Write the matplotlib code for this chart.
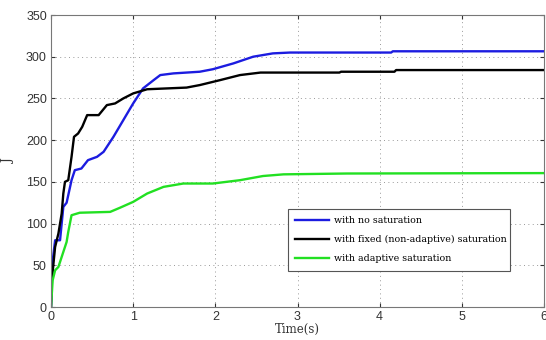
import matplotlib
matplotlib.use("Agg")
import matplotlib.pyplot as plt

# values
t_blue = [0, 0.02, 0.05, 0.11, 0.15, 0.19, 0.25, 0.29, 0.37, 0.45, 0.56, 0.64, 0.76,
          0.88, 1.0, 1.12, 1.25, 1.33, 1.49, 1.81, 1.97, 2.22, 2.46, 2.70, 2.91,
          4.14, 4.16, 6.0]
j_blue = [0, 55, 80, 80, 120, 125, 152, 164, 166, 176, 180, 186, 204,
          224, 244, 262, 272, 278, 280, 282, 285, 292, 300, 304, 305,
          305, 306.5, 306.5]

t_black = [0, 0.01, 0.05, 0.09, 0.13, 0.15, 0.17, 0.21, 0.25, 0.28, 0.33, 0.38, 0.44,
           0.58, 0.68, 0.78, 0.88, 1.0, 1.17, 1.41, 1.65, 1.81, 2.06, 2.30, 2.55,
           3.51, 3.53, 4.18, 4.20, 6.0]
j_black = [0, 32, 72, 88, 112, 136, 150, 152, 180, 204, 208, 216, 230,
           230, 242, 244, 250, 256, 261, 262, 263, 266, 272, 278, 281,
           281, 282, 282, 284, 284]

t_green = [0, 0.02, 0.05, 0.09, 0.13, 0.15, 0.19, 0.21, 0.25, 0.35, 0.72, 0.84, 1.0,
           1.17, 1.37, 1.61, 1.97, 2.30, 2.58, 2.83, 3.6, 6.0]
j_green = [0, 32, 44, 48, 60, 66, 78, 90, 110, 113, 114, 119, 126,
           136, 144, 148, 148, 152, 157, 159, 160, 160.5]

labels = ["with no saturation",
          "with fixed (non-adaptive) saturation",
          "with adaptive saturation"]

fig = plt.figure(figsize=(5.46, 3.40), dpi=100)
ax = fig.add_axes([51 / 546, 1 - 307 / 340, 493 / 546, 292 / 340])

ax.plot(t_blue, j_blue, color="#1c1ce0", lw=1.7, label=labels[0])
ax.plot(t_black, j_black, color="black", lw=1.7, label=labels[1])
ax.plot(t_green, j_green, color="#22e022", lw=1.7, label=labels[2])

ax.set_xlim(0, 6)
ax.set_ylim(0, 350)
ax.set_xticks(range(0, 7))
ax.set_yticks(range(0, 351, 50))
ax.grid(True, linestyle=(0, (1, 3.5)), color="#999999", lw=0.7)
ax.tick_params(direction="in", length=3, top=True, right=True,
               labelsize=9, colors="#333333", pad=3)
for lab in ax.get_xticklabels() + ax.get_yticklabels():
    lab.set_family("Liberation Sans")
for s in ax.spines.values():
    s.set_color("#777777")
    s.set_linewidth(0.8)

ax.set_xlabel("Time(s)", family="DejaVu Serif", fontsize=8.5, color="#333333", labelpad=0)
ax.set_ylabel("J", family="DejaVu Serif", fontsize=8.5, color="#333333", labelpad=8)

leg = ax.legend(loc="upper left", bbox_to_anchor=(0.471, 0.343, 0.47, 0.01),
                mode="expand", fancybox=False, framealpha=1, edgecolor="#555555",
                prop={"family": "DejaVu Serif", "size": 6.8},
                handlelength=3.6, handletextpad=0.5, labelspacing=1.05,
                borderpad=0.8)
leg.get_frame().set_linewidth(0.8)

fig.savefig("out.png", dpi=100)
